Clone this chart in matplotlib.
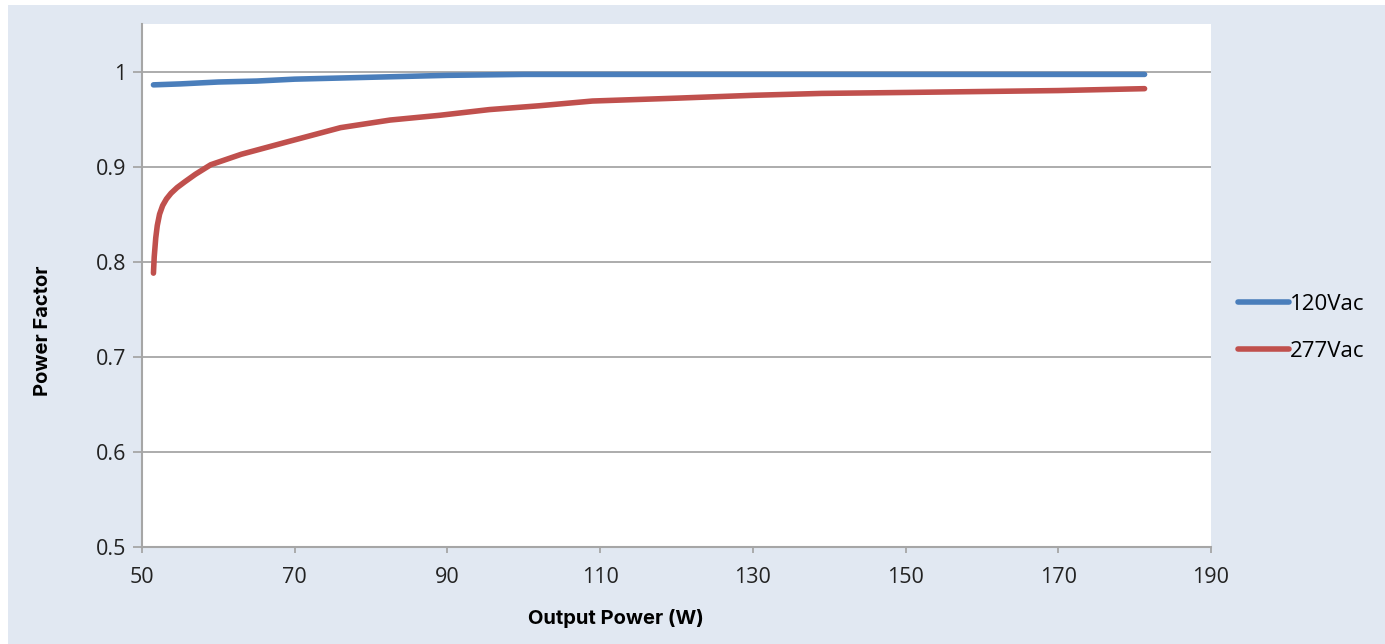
"""
Power factor vs output power, 120Vac and 277Vac input.
"""
import matplotlib
matplotlib.use('Agg')
import matplotlib.pyplot as plt
from matplotlib.patches import Rectangle

# values
p_120  = [51.5, 55, 60, 65, 70, 80, 90, 100, 120, 140, 160, 181.3]
pf_120 = [0.986, 0.987, 0.989, 0.990, 0.992, 0.994, 0.996, 0.997, 0.997, 0.997, 0.997, 0.997]

p_277  = [51.5, 51.6, 51.8, 52.0, 52.3, 52.7, 53.2, 53.8, 54.6, 55.6, 57.0, 59.0, 63.0, 69.0,
          76.0, 82.5, 89.0, 95.5, 102, 109, 120, 130, 139, 150, 160, 170, 181.3]
pf_277 = [0.788, 0.805, 0.825, 0.838, 0.850, 0.859, 0.866, 0.872, 0.878, 0.884, 0.892, 0.902,
          0.913, 0.926, 0.941, 0.949, 0.954, 0.960, 0.964, 0.969, 0.972, 0.975, 0.977, 0.978,
          0.979, 0.980, 0.982]

x_ticks = [50, 70, 90, 110, 130, 150, 170, 190]
y_ticks = [0.5, 0.6, 0.7, 0.8, 0.9, 1.0]
y_labels = ['0.5', '0.6', '0.7', '0.8', '0.9', '1']

bg = '#e1e8f2'
grid_c = '#a6a6a6'
blue = '#4a7ebb'
red = '#c0504d'

fig = plt.figure(figsize=(13.85, 6.44), dpi=100)
fig.patch.set_facecolor('white')
fig.add_artist(Rectangle((8 / 1385, 0), 1, 1 - 5 / 644, transform=fig.transFigure,
                         facecolor=bg, edgecolor='none', zorder=0))

ax = fig.add_axes([142 / 1385, 1 - 547 / 644, (1211 - 142) / 1385, (547 - 24) / 644])
ax.set_facecolor('white')

ax.plot(p_120, pf_120, color=blue, lw=4, solid_capstyle='round', label='120Vac', zorder=3)
ax.plot(p_277, pf_277, color=red, lw=4, solid_capstyle='round', label='277Vac', zorder=3)

ax.set_xlim(50, 190)
ax.set_ylim(0.5, 1.05)
ax.set_xticks(x_ticks)
ax.set_yticks(y_ticks)
ax.set_yticklabels(y_labels)
ax.grid(axis='y', color=grid_c, lw=1.3)
ax.set_axisbelow(True)

for s in ['top', 'right']:
    ax.spines[s].set_visible(False)
for s in ['left', 'bottom']:
    ax.spines[s].set_color(grid_c)
    ax.spines[s].set_linewidth(1.5)
ax.tick_params(axis='y', length=6.5, width=1.3, color=grid_c, pad=5,
               labelsize=15.5, labelcolor='#222222')
ax.tick_params(axis='x', length=4.5, width=1.3, color=grid_c, pad=10,
               labelsize=15.5, labelcolor='#222222')
for lab in ax.get_xticklabels() + ax.get_yticklabels():
    lab.set_family('Open Sans')

fig.text(43 / 1385, 1 - 331 / 644, 'Power Factor', rotation=90, ha='center', va='center',
         fontsize=14.5, fontweight='bold', family='Inter')
fig.text(616 / 1385, 1 - 618 / 644, 'Output Power (W)', ha='center', va='center',
         fontsize=14.5, fontweight='bold', family='Inter')

ax.legend(loc='center left', bbox_to_anchor=(1238 / 1385, 1 - 328 / 644),
          bbox_transform=fig.transFigure, frameon=False, handlelength=2.3,
          handletextpad=0.05, labelspacing=1.15, borderpad=0, borderaxespad=0,
          prop={'family': 'Open Sans', 'size': 16})

plt.savefig('out.png', dpi=100)
